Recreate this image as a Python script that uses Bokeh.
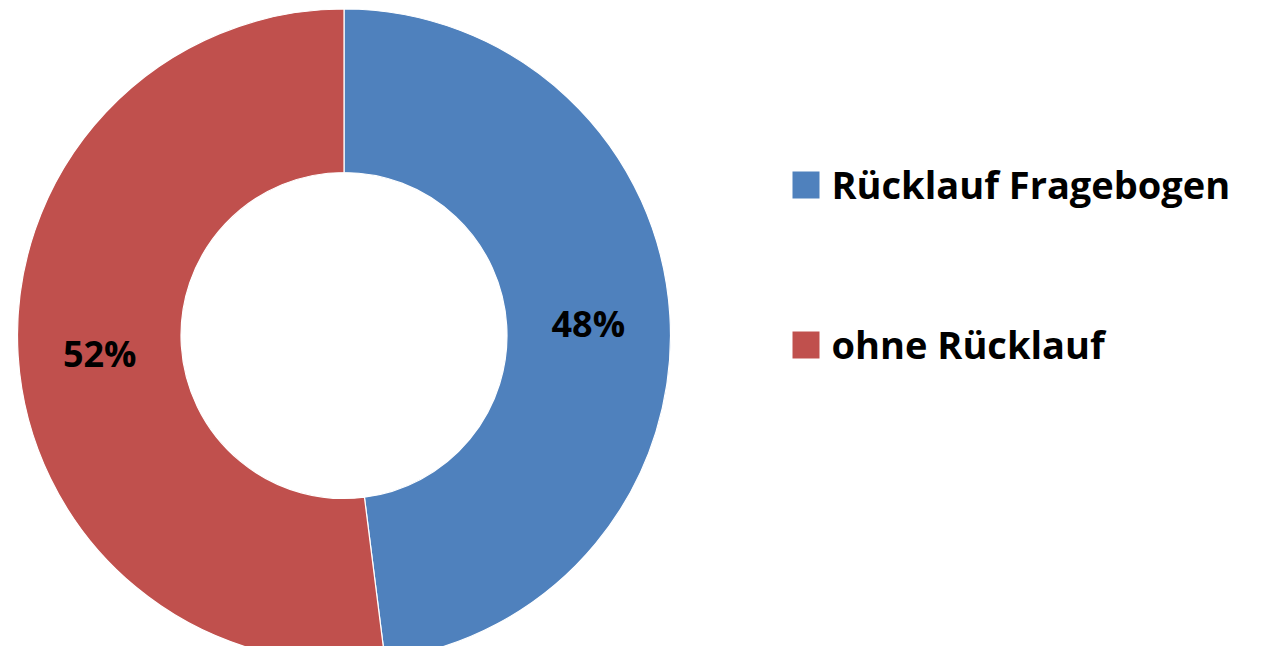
import numpy as np
from bokeh.plotting import figure
from bokeh.models import Range1d, ColumnDataSource
from bokeh.core.properties import value
from bokeh.embed import file_html
from bokeh.resources import INLINE

# ---- data ----
categories = ["Rücklauf Fragebogen", "ohne Rücklauf"]
shares = [48, 52]
colors = ["#4F81BD", "#C0504D"]

# ---- layout (screen-pixel coordinates; y data = -screen y) ----
W, H = 1246, 646
cx, cy = 343.5, -335.0
r_out, r_in = 326.5, 163.0
FONT = value("Open Sans")

p = figure(width=W, height=H, output_backend="svg", toolbar_location=None,
           x_range=Range1d(0, W), y_range=Range1d(-H, 0),
           min_border=0)
p.axis.visible = False
p.grid.visible = False
p.outline_line_color = None
p.background_fill_color = "white"

frac = np.array(shares, dtype=float) / sum(shares)
ends_cw = np.cumsum(frac) * 2 * np.pi
starts_cw = ends_cw - frac * 2 * np.pi
start_angle = np.pi / 2 - starts_cw
end_angle = np.pi / 2 - ends_cw
mid = (start_angle + end_angle) / 2

src = ColumnDataSource(dict(x=[cx] * len(shares), y=[cy] * len(shares),
                            start=start_angle, end=end_angle, color=colors))
p.annular_wedge(x="x", y="y", inner_radius=r_in, outer_radius=r_out,
                inner_radius_units="screen", outer_radius_units="screen",
                start_angle="start", end_angle="end", direction="clock",
                fill_color="color", line_color="white", line_width=1.2,
                source=src)

# percentage labels, placed on the ring's middle radius
r_mid = (r_in + r_out) / 2
lx = cx + r_mid * np.cos(mid)
ly = cy + r_mid * np.sin(mid) - 3
labels = [f"{s}%" for s in shares]
p.text(x=lx, y=ly, text=labels, text_font=FONT, text_font_style="bold",
       text_font_size="36px", text_color="black", text_align="center",
       text_baseline="alphabetic")

# legend
leg_x = 805.5
leg_y = np.array([-184.5, -344.5])
p.rect(x=[leg_x] * 2, y=leg_y, width=27, height=27, width_units="screen",
       height_units="screen", fill_color=colors, line_color=None)
p.text(x=[831] * 2, y=leg_y + 1.5, text=categories, text_font=FONT,
       text_font_style="bold", text_font_size="38px", text_color="black",
       text_align="left", text_baseline="alphabetic")

open("out.html", "w").write(file_html(p, INLINE))
